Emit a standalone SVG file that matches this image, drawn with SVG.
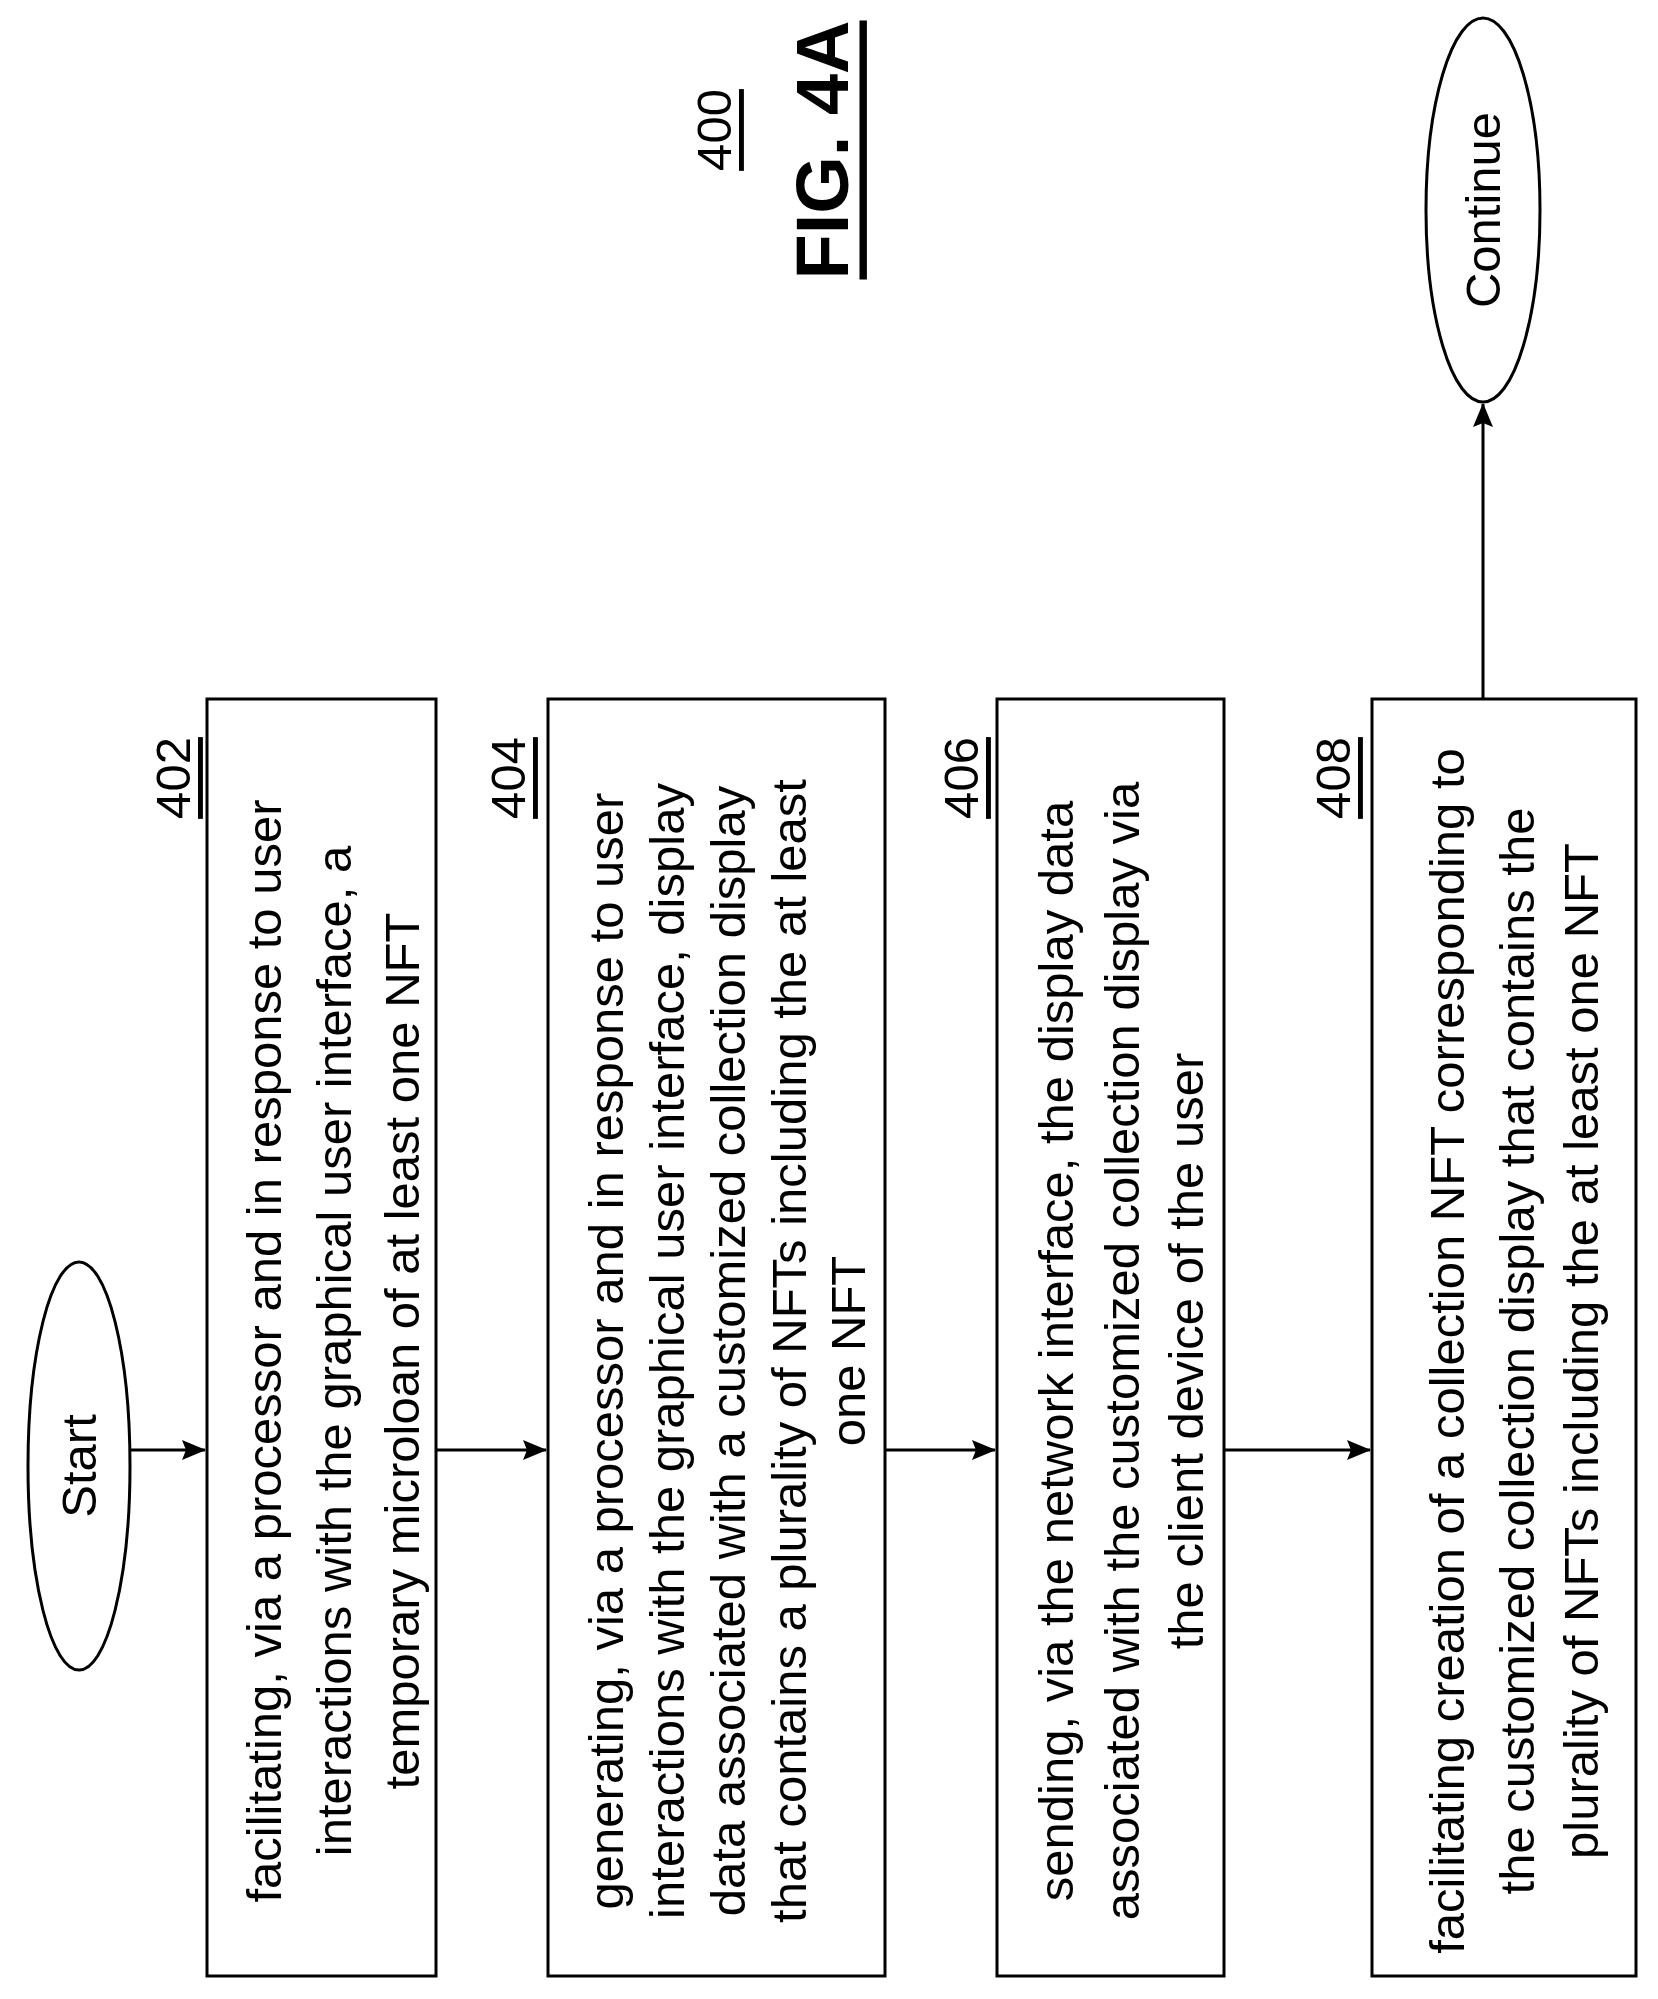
<svg xmlns="http://www.w3.org/2000/svg" width="1658" height="1999" viewBox="0 0 1658 1999">
<defs>
<style>
text{font-family:"Liberation Sans",Arial,sans-serif;font-size:49px;fill:#000;text-anchor:middle;dominant-baseline:central}
.b{fill:#fff;stroke:#000;stroke-width:3}
.l{stroke:#000;stroke-width:3;fill:none}
.u{text-decoration:underline}
</style>
<marker id="a" markerWidth="24" markerHeight="20" refX="23" refY="10" orient="auto" markerUnits="userSpaceOnUse" viewBox="0 0 24 20"><path d="M0,0 L24,10 L0,20 L4,10 Z" fill="#000"/></marker>
</defs>
<g id="title">
<text class="u" transform="translate(714,130) rotate(-90)">400</text>
<text class="u" transform="translate(822,150) rotate(-90)" style="font-size:74px;font-weight:bold">FIG. 4A</text>
</g>
<g id="connectors">
<line class="l" x1="130" y1="1450" x2="205" y2="1450" marker-end="url(#a)"/>
<line class="l" x1="436" y1="1450" x2="546" y2="1450" marker-end="url(#a)"/>
<line class="l" x1="885" y1="1450" x2="995" y2="1450" marker-end="url(#a)"/>
<line class="l" x1="1224" y1="1450" x2="1370" y2="1450" marker-end="url(#a)"/>
<line class="l" x1="1483" y1="699" x2="1483" y2="404" marker-end="url(#a)"/>
</g>
<g id="start">
<ellipse class="b" cx="79" cy="1466" rx="51" ry="204"/>
<text transform="translate(79,1466) rotate(-90)">Start</text>
</g>
<g id="n402">
<rect class="b" x="207" y="699" width="229" height="1277"/>
<text class="u" transform="translate(173,778) rotate(-90)">402</text>
<text transform="translate(264,1351) rotate(-90)">facilitating, via a processor and in response to user</text>
<text transform="translate(334,1351) rotate(-90)">interactions with the graphical user interface, a</text>
<text transform="translate(402,1351) rotate(-90)">temporary microloan of at least one NFT</text>
</g>
<g id="n404">
<rect class="b" x="548" y="699" width="337" height="1277"/>
<text class="u" transform="translate(508,778) rotate(-90)">404</text>
<text transform="translate(606,1351) rotate(-90)">generating, via a processor and in response to user</text>
<text transform="translate(667,1351) rotate(-90)">interactions with the graphical user interface, display</text>
<text transform="translate(728,1351) rotate(-90)">data associated with a customized collection display</text>
<text transform="translate(789,1351) rotate(-90)">that contains a plurality of NFTs including the at least</text>
<text transform="translate(848,1351) rotate(-90)">one NFT</text>
</g>
<g id="n406">
<rect class="b" x="997" y="699" width="227" height="1277"/>
<text class="u" transform="translate(961,778) rotate(-90)">406</text>
<text transform="translate(1056,1351) rotate(-90)">sending, via the network interface, the display data</text>
<text transform="translate(1122,1351) rotate(-90)">associated with the customized collection display via</text>
<text transform="translate(1186,1351) rotate(-90)">the client device of the user</text>
</g>
<g id="n408">
<rect class="b" x="1372" y="699" width="264" height="1277"/>
<text class="u" transform="translate(1333,778) rotate(-90)">408</text>
<text transform="translate(1447,1351) rotate(-90)">facilitating creation of a collection NFT corresponding to</text>
<text transform="translate(1517,1351) rotate(-90)">the customized collection display that contains the</text>
<text transform="translate(1581,1351) rotate(-90)">plurality of NFTs including the at least one NFT</text>
</g>
<g id="continue">
<ellipse class="b" cx="1483" cy="210" rx="57" ry="192"/>
<text transform="translate(1483,210) rotate(-90)">Continue</text>
</g>
</svg>
